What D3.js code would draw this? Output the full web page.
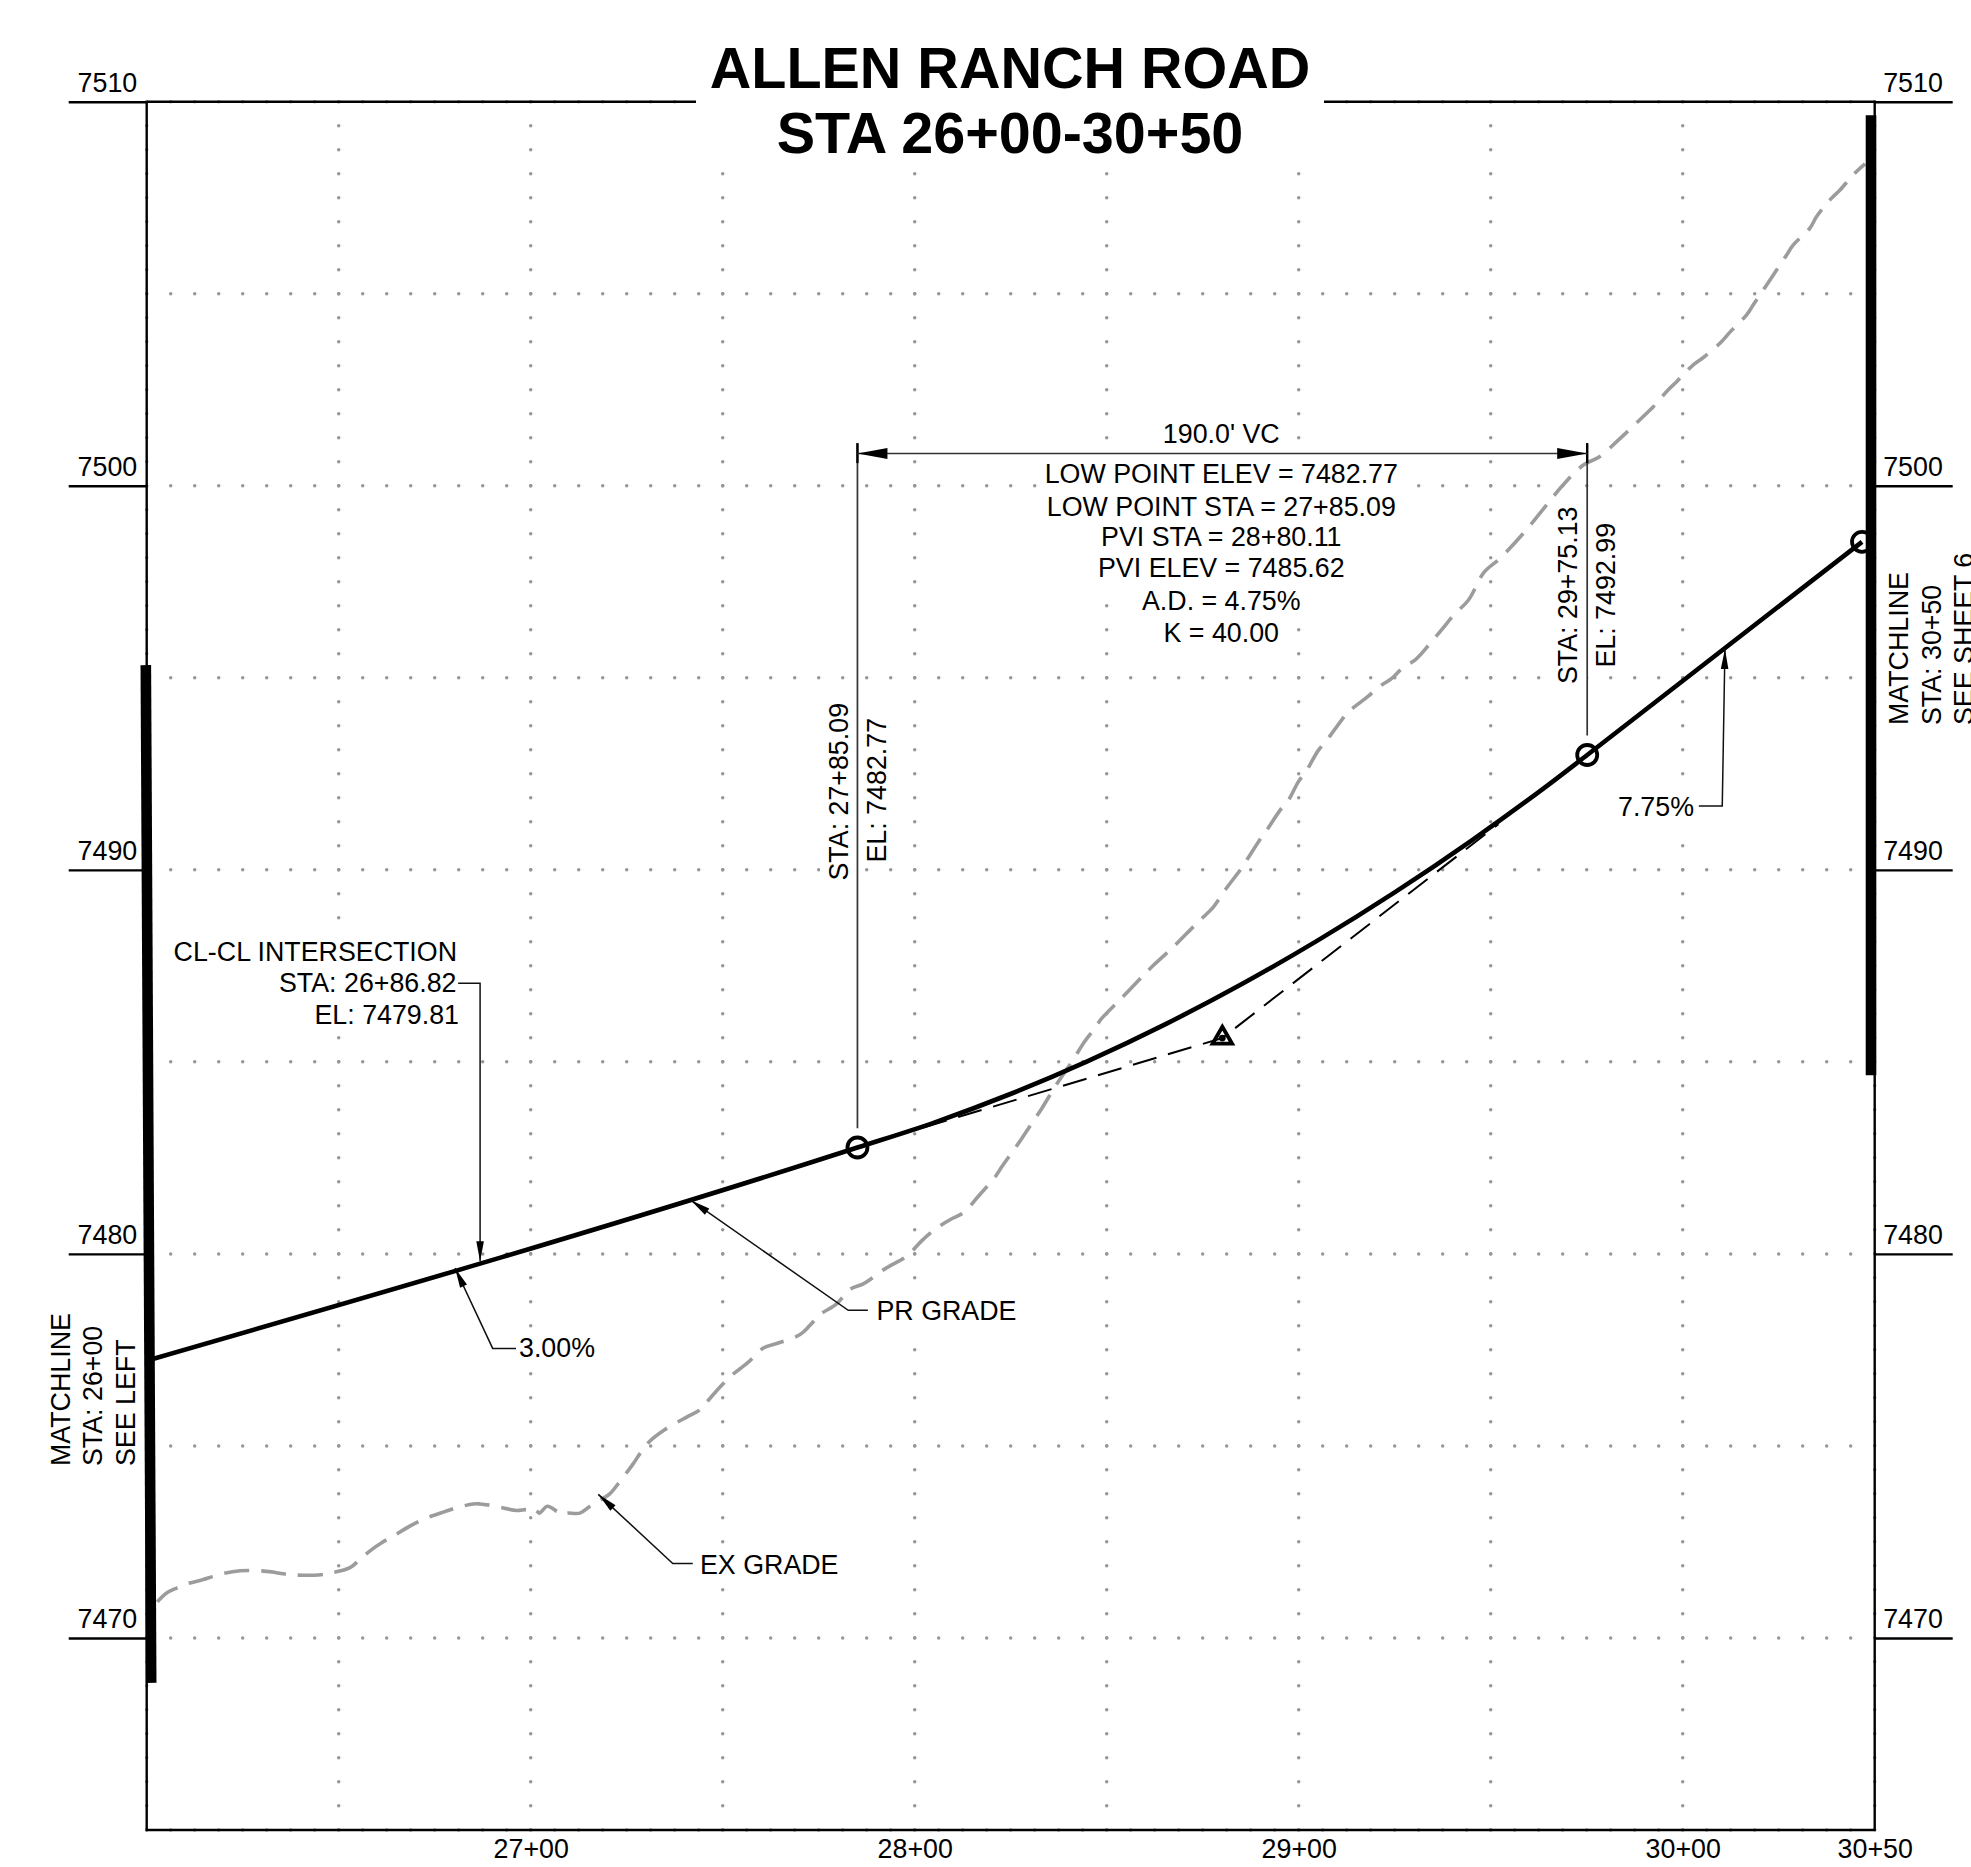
<!DOCTYPE html>
<html>
<head>
<meta charset="utf-8">
<script src="https://cdn.jsdelivr.net/npm/d3@7/dist/d3.min.js"></script>
<style>
html,body{margin:0;padding:0;background:#fff;overflow:hidden}
svg{display:block}
text{font-family:"Liberation Sans",Arial,sans-serif;fill:#000}
</style>
</head>
<body>
<svg id="c" width="1971" height="1867"></svg>
<script>
// ---------- data (station in feet, elevation in feet) ----------
const stationDomain = [2600, 3050];
const elevationDomain = [7465, 7510];
const elevationTicks = [7470, 7480, 7490, 7500, 7510];
const stationTicks = [2700, 2800, 2900, 3000, 3050];
const stationGrid = [2600,2650,2700,2750,2800,2850,2900,2950,3000,3050];
const elevationGrid = [7465,7470,7475,7480,7485,7490,7495,7500,7505,7510];

const proposedStations = [2600,2785.09,2805.09,2825.09,2845.09,2865.09,2885.09,2905.09,2925.09,2945.09,2965.09,2975.13,3046.7];
const proposedElevations = [7477.22,7482.77,7483.42,7484.17,7485.02,7485.97,7487.02,7488.17,7489.42,7490.77,7492.22,7492.99,7498.54];

const tangentStations = [2802.2,2880.11,2952];
const tangentElevations = [7483.29,7485.62,7491.19];

const existingStations = [2602.77,2605.2,2607.8,2610.84,2614.75,2616.9,2619.96,2624.3,2629.07,2632.54,2635.58,2638.62,2644.69,2647.73,2652.94,2655.98,2658.58,2661.19,2663.79,2669,2672.04,2677.68,2680.72,2685.06,2686.79,2689.83,2696.34,2698.94,2700.68,2701.37,2702.24,2704.33,2706.93,2708.49,2709.36,2712.83,2715.44,2720.64,2722.81,2726.72,2728.46,2731.07,2734.98,2740.62,2744.09,2746.26,2749.73,2752.34,2754.51,2756.68,2760.58,2764.49,2770.13,2772.73,2775.34,2779.68,2783.15,2786.62,2792.26,2797.91,2801.81,2805.72,2809.19,2812.66,2816.57,2820.91,2822.64,2827.85,2831.32,2833.06,2836.53,2838.27,2841.31,2843.91,2846.95,2848.69,2853.46,2859.54,2861.71,2866.48,2868.65,2872.99,2875.16,2877.77,2880.8,2884.71,2886.45,2889.92,2891.65,2895.13,2897.3,2899.9,2902.07,2905.11,2907.28,2911.18,2912.92,2918.13,2920.3,2924.64,2927.24,2930.28,2934.19,2938.53,2940.27,2944.17,2948.3,2952.42,2958.5,2962.84,2964.57,2968.48,2974.12,2978.46,2982.8,2985.4,2990.61,2992.35,2996.25,2998.42,3002.76,3005.37,3009.71,3012.31,3016.65,3018.39,3021.86,3023.6,3027.07,3028.8,3033.14,3034.88,3038.79,3040.96,3044.43,3047.47];
const existingElevations = [7470.94,7471.17,7471.3,7471.42,7471.52,7471.59,7471.68,7471.75,7471.75,7471.72,7471.67,7471.64,7471.64,7471.69,7471.83,7472.09,7472.3,7472.48,7472.63,7472.94,7473.09,7473.29,7473.39,7473.49,7473.49,7473.45,7473.32,7473.34,7473.27,7473.32,7473.25,7473.43,7473.29,7473.21,7473.25,7473.25,7473.43,7473.76,7474.02,7474.54,7474.8,7475.13,7475.43,7475.75,7475.94,7476.19,7476.58,7476.84,7477.01,7477.18,7477.55,7477.68,7477.9,7478.14,7478.42,7478.7,7479.08,7479.22,7479.61,7479.94,7480.34,7480.67,7480.89,7481.07,7481.5,7482,7482.26,7483,7483.52,7483.78,7484.35,7484.61,7485.06,7485.48,7485.88,7486.13,7486.62,7487.25,7487.47,7487.91,7488.12,7488.56,7488.77,7489.03,7489.47,7489.99,7490.25,7490.79,7491.03,7491.55,7491.81,7492.29,7492.59,7493.11,7493.37,7493.9,7494.11,7494.52,7494.72,7495.02,7495.28,7495.46,7495.89,7496.41,7496.63,7497.02,7497.75,7498.11,7498.76,7499.29,7499.5,7499.98,7500.54,7500.76,7501.15,7501.39,7501.89,7502.06,7502.5,7502.71,7503.15,7503.34,7503.71,7504,7504.45,7504.71,7505.23,7505.49,7506.01,7506.27,7506.71,7507.01,7507.49,7507.7,7508.1,7508.38];

const keyPoints = [[2785.09,7482.77],[2975.13,7492.99],[3046.7,7498.54]];
const pvi = [2880.11,7485.62];
const leftMatchline = [[2599.77,7495.33],[2601.17,7468.83]];
const rightMatchline = [[3049.04,7509.65],[3049.04,7484.65]];
const vcElevation = 7500.84;
const vcTop = 7501.11;
const leaders = [
  [[2681.1,7487.05],[2686.82,7487.05],[2686.82,7479.81]],
  [[2696.17,7477.54],[2690.1,7477.54],[2680.3,7479.63]],
  [[2787.8,7478.53],[2782.7,7478.53],[2741.67,7481.4]],
  [[2742.2,7471.94],[2737,7471.94],[2717.6,7473.74]],
  [[3004.2,7491.66],[3010.3,7491.66],[3011,7495.75]]
];
const vcLeaders = [[2785.09,7483.27],[2975.13,7493.5]];
const titleLines = ["ALLEN RANCH ROAD","STA 26+00-30+50"];
const vcNotes = ["190.0' VC","LOW POINT ELEV = 7482.77","LOW POINT STA = 27+85.09","PVI STA = 28+80.11","PVI ELEV = 7485.62","A.D. = 4.75%","K = 40.00"];
const stationLabel = s => s === 3050 ? "30+50" : (s/100) + "+00";

// ---------- layout ----------
const FS = 26.8;
const svg = d3.select("#c");
const x = d3.scaleLinear(stationDomain,[146.7,1874.7]);
const y = d3.scaleLinear(elevationDomain,[1830,101.7]);
const zip = (a,b)=>a.map((v,i)=>[v,b[i]]);
const line = d3.line(d=>x(d[0]),d=>y(d[1]));

const gGrid = svg.append("g");
const gMask = svg.append("g");
const gAxes = svg.append("g");
const gLines = svg.append("g");
const gText = svg.append("g");

// grid of dots
gGrid.selectAll("line").data(stationGrid.map(d=>["v",d]).concat(elevationGrid.map(d=>["h",d]))).join("line")
  .attr("x1",d=>d[0]=="v"?x(d[1]):x.range()[0]).attr("x2",d=>d[0]=="v"?x(d[1]):x.range()[1])
  .attr("y1",d=>d[0]=="v"?y.range()[1]:y(d[1])).attr("y2",d=>d[0]=="v"?y.range()[0]:y(d[1]))
  .attr("stroke","#969696").attr("stroke-width",3.5).attr("stroke-linecap","round").attr("stroke-dasharray","0 24");

// axes
function elevAxis(axis, tx, labelX, anchor){
  const g = gAxes.append("g").attr("transform",`translate(${tx},0)`).call(axis.tickValues(elevationTicks).tickSize(78).tickFormat(d3.format("d")));
  g.select(".domain").remove();
  g.selectAll("line").attr("stroke","#000").attr("stroke-width",2.4);
  g.selectAll("text").attr("x",labelX).attr("dy",null).attr("y",-10.6).attr("text-anchor",anchor).style("font-size",FS+"px").attr("font-family",null);
}
elevAxis(d3.axisLeft(y),146.7,-9.5,"end");
elevAxis(d3.axisRight(y),1874.7,8.5,"start");
const gb = gAxes.append("g").attr("transform",`translate(0,${y.range()[0]})`)
  .call(d3.axisBottom(x).tickValues(stationTicks).tickSize(0).tickFormat(stationLabel));
gb.select(".domain").remove();
gb.selectAll("text").attr("dy",null).attr("y",27.5).attr("text-anchor","middle").style("font-size",FS+"px").attr("font-family",null);

// frame
const frame = [[stationDomain[0],elevationDomain[1]],[stationDomain[0],elevationDomain[0]],[stationDomain[1],elevationDomain[0]],[stationDomain[1],elevationDomain[1]],[stationDomain[0],elevationDomain[1]]];
gAxes.append("path").attr("d",line(frame)).attr("fill","none").attr("stroke","#000").attr("stroke-width",2.4);

// existing grade
gLines.append("path").attr("d",line.curve(d3.curveCatmullRom.alpha(0.5))(zip(existingStations,existingElevations)))
  .attr("fill","none").attr("stroke","#9c9c9c").attr("stroke-width",3.6).attr("stroke-dasharray","25 12");
line.curve(d3.curveLinear);

// tangents
gLines.append("path").attr("d",line(zip(tangentStations,tangentElevations)))
  .attr("fill","none").attr("stroke","#000").attr("stroke-width",2).attr("stroke-dasharray","24.5 12");

// proposed grade
gLines.append("path").attr("d",d3.line(d=>x(d[0]),d=>y(d[1])).curve(d3.curveMonotoneX)(zip(proposedStations,proposedElevations)))
  .attr("fill","none").attr("stroke","#000").attr("stroke-width",4.6);

// key points
gLines.selectAll(".kp").data(keyPoints).join("circle").attr("class","kp")
  .attr("cx",d=>x(d[0])).attr("cy",d=>y(d[1])).attr("r",10).attr("fill","none").attr("stroke","#000").attr("stroke-width",3.8);

// PVI marker
const gp = gLines.append("g").attr("transform",`translate(${x(pvi[0])},${y(pvi[1])})`);
gp.append("path").attr("d",d3.symbol(d3.symbolTriangle,165)()).attr("fill","none").attr("stroke","#000").attr("stroke-width",3.8);
gp.append("circle").attr("r",3.4).attr("fill","#000");

// arrow heads
function arrow(px,py,qx,qy,len,half){ // tip at q, coming from p
  const a = Math.atan2(qy-py,qx-px), deg = a*180/Math.PI;
  gLines.append("path").attr("d",`M0,0L${-len},${-half}L${-len},${half}Z`)
    .attr("transform",`translate(${qx},${qy}) rotate(${deg})`).attr("fill","#000");
}
// leaders
leaders.forEach(l=>{
  gLines.append("path").attr("d",line(l)).attr("fill","none").attr("stroke","#111").attr("stroke-width",1.5);
  const n=l.length;
  arrow(x(l[n-2][0]),y(l[n-2][1]),x(l[n-1][0]),y(l[n-1][1]),20,3.8);
});

// VC dimension
vcLeaders.forEach(d=>{
  gLines.append("line").attr("x1",x(d[0])).attr("x2",x(d[0])).attr("y1",y(vcTop)).attr("y2",y(d[1]))
    .attr("stroke","#333").attr("stroke-width",1.7);
  gLines.append("line").attr("x1",x(d[0])).attr("x2",x(d[0])).attr("y1",y(vcTop)).attr("y2",y(vcTop)+20)
    .attr("stroke","#000").attr("stroke-width",2.4);
});
const xa=x(vcLeaders[0][0]), xb=x(vcLeaders[1][0]), yd=y(vcElevation);
gLines.append("line").attr("x1",xa).attr("x2",xb).attr("y1",yd).attr("y2",yd).attr("stroke","#333").attr("stroke-width",1.7);
arrow(xb,yd,xa,yd,30,5.5);
arrow(xa,yd,xb,yd,30,5.5);

// matchlines
[leftMatchline,rightMatchline].forEach(m=>{
  gLines.append("path").attr("d",line(m)).attr("fill","none").attr("stroke","#000").attr("stroke-width",10.6);
});

// text with white boxes behind
function label(str,px,py,anchor,opts={}){
  const rot = opts.rot?`rotate(-90 ${px} ${py})`:null;
  const t = gText.append("text").attr("x",px).attr("y",py).attr("text-anchor",anchor||"start")
    .style("font-size",(opts.size||FS)+"px").text(str);
  if(opts.bold) t.style("font-weight","bold");
  if(rot) t.attr("transform",rot);
  if(opts.mask!==false){
    const b=t.node().getBBox(), p=opts.pad==null?4:opts.pad;
    const r=gMask.append("rect").attr("x",b.x-p).attr("y",b.y-p).attr("width",b.width+2*p).attr("height",b.height+2*p).attr("fill","#fff");
    if(rot) r.attr("transform",rot);
  }
  return t;
}
// title
label(titleLines[0],1010,87.5,"middle",{bold:true,size:57.5,mask:false});
label(titleLines[1],1010,152.5,"middle",{bold:true,size:57.5,mask:false});
gAxes.append("rect").attr("x",696).attr("y",60).attr("width",628).attr("height",104).attr("fill","#fff");
gMask.append("rect").attr("x",696).attr("y",60).attr("width",628).attr("height",104).attr("fill","#fff");

// notes
const noteY=[442.5,483,515.5,545.7,577.3,610,641.7];
vcNotes.forEach((s,i)=>label(s,1221.3,noteY[i],"middle"));
// CL-CL
label("CL-CL INTERSECTION",457,961,"end");
label("STA: 26+86.82",456.5,992,"end");
label("EL: 7479.81",459,1024,"end");
label("3.00%",519,1357,"start");
label("PR GRADE",876.5,1320,"start");
label("EX GRADE",700,1573.5,"start");
label("7.75%",1694,815.7,"end");
// vertical notes
label("STA: 27+85.09",848,880.5,"start",{rot:true});
label("EL: 7482.77",886,862.5,"start",{rot:true});
label("STA: 29+75.13",1577.3,684,"start",{rot:true});
label("EL: 7492.99",1615,667.5,"start",{rot:true});
label("MATCHLINE",70,1466,"start",{rot:true,mask:false});
label("STA: 26+00",102.2,1466,"start",{rot:true,mask:false});
label("SEE LEFT",134.5,1466,"start",{rot:true,mask:false});
label("MATCHLINE",1908,725,"start",{rot:true,mask:false});
label("STA: 30+50",1940.7,725,"start",{rot:true,mask:false});
label("SEE SHEET 6",1973,725,"start",{rot:true,mask:false});
</script>
</body>
</html>
